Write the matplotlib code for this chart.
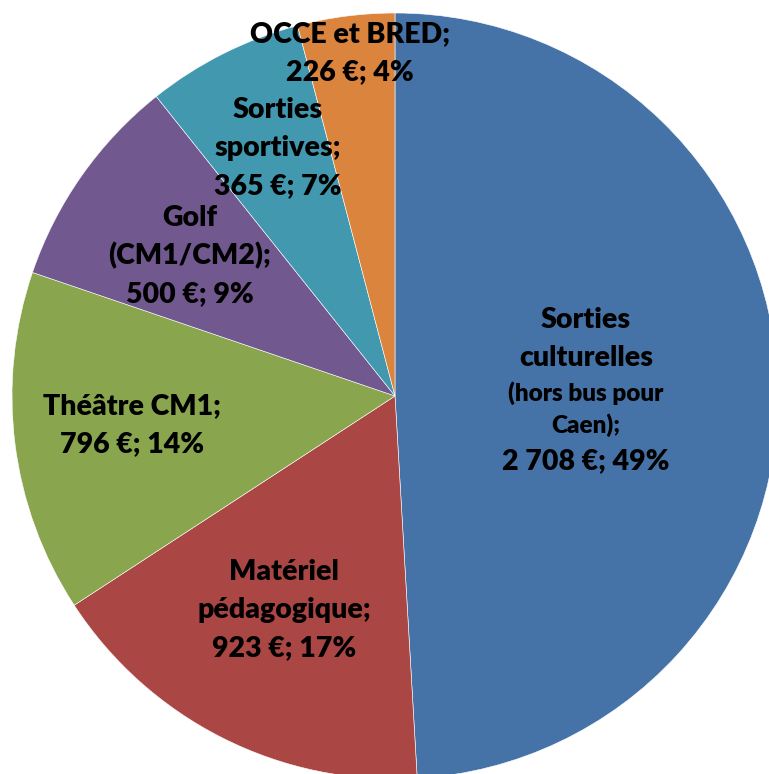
import matplotlib
matplotlib.use("Agg")
import matplotlib.pyplot as plt

categories = ["Sorties culturelles", "Matériel pédagogique", "Théâtre CM1",
              "Golf (CM1/CM2)", "Sorties sportives", "OCCE et BRED"]
values = [2708, 923, 796, 500, 365, 226]
colors = ["#4572A7", "#AA4643", "#89A54E", "#71588F", "#4198AF", "#DB843D"]

BIG, SMALL = 20.5, 17.5
# label lines: (text, x_px, y_px, size)
label_lines = [
    [("Sorties", 586, 320, BIG), ("culturelles", 586, 358, BIG),
     ("(hors bus pour", 586, 393, SMALL), ("Caen);", 586, 425, SMALL),
     ("2 708 €; 49%", 586, 461, BIG)],
    [("Matériel", 284, 572, BIG), ("pédagogique;", 284, 610, BIG), ("923 €; 17%", 284, 648, BIG)],
    [("Théâtre CM1;", 132, 406, BIG), ("796 €; 14%", 132, 444, BIG)],
    [("Golf", 190, 218, BIG), ("(CM1/CM2);", 190, 256, BIG), ("500 €; 9%", 190, 294, BIG)],
    [("Sorties", 278, 110, BIG), ("sportives;", 278, 148, BIG), ("365 €; 7%", 278, 186, BIG)],
    [("OCCE et BRED;", 350, 34, BIG), ("226 €; 4%", 350, 72, BIG)],
]

W, H = 769, 774
fig = plt.figure(figsize=(W / 100, H / 100), dpi=100)
ax = fig.add_axes([0, 0, 1, 1])
ax.pie(values, colors=colors, startangle=90, counterclock=False,
       center=(395, H - 396), radius=383,
       wedgeprops=dict(edgecolor="white", linewidth=0.4))
ax.set_xlim(0, W)
ax.set_ylim(0, H)
ax.set_aspect("equal")
ax.axis("off")

for lines in label_lines:
    for txt, x, y, s in lines:
        ax.text(x, H - y, txt, ha="center", va="center", fontsize=s,
                fontweight="heavy", family=["Lato", "DejaVu Sans"], color="black")

fig.savefig("out.png", dpi=100)
